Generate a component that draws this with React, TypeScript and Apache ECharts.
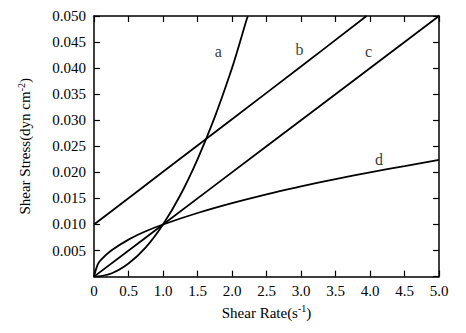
import React, { useEffect, useRef } from "react";
import * as echarts from "echarts";

const xTicks = [0, 0.5, 1.0, 1.5, 2.0, 2.5, 3.0, 3.5, 4.0, 4.5, 5.0];
const yTicks = [0, 0.005, 0.01, 0.015, 0.02, 0.025, 0.03, 0.035, 0.04, 0.045, 0.05];

const curveA: [number, number][] = [
  [0, 0], [0.25, 0.0006], [0.5, 0.0025], [0.75, 0.0056], [1.0, 0.01], [1.25, 0.0156],
  [1.5, 0.0225], [1.75, 0.0306], [2.0, 0.04], [2.1, 0.0443], [2.2, 0.0488], [2.23, 0.05],
];
const curveB: [number, number][] = [[0, 0.01], [1.0, 0.0201], [2.0, 0.0302], [3.0, 0.0403], [3.95, 0.05]];
const curveC: [number, number][] = [[0, 0], [1.0, 0.01], [2.5, 0.025], [5.0, 0.05]];
const curveD: [number, number][] = [
  [0, 0], [0.05, 0.0022], [0.1, 0.0032], [0.25, 0.005], [0.5, 0.0071], [0.75, 0.0087], [1.0, 0.01],
  [1.5, 0.0122], [2.0, 0.0141], [2.5, 0.0158], [3.0, 0.0173], [3.5, 0.0187], [4.0, 0.02],
  [4.5, 0.0212], [5.0, 0.0224],
];
const curveLabels: { name: string; value: [number, number] }[] = [
  { name: "a", value: [1.8, 0.0432] },
  { name: "b", value: [2.98, 0.0436] },
  { name: "c", value: [3.98, 0.0432] },
  { name: "d", value: [4.13, 0.0224] },
];

const FONT = "Liberation Serif";

export default function App() {
  const ref = useRef<HTMLDivElement>(null);
  useEffect(() => {
    if (!ref.current) return;
    const chart = echarts.init(ref.current, undefined, { renderer: "svg" });
    const line = (data: [number, number][]) => ({
      type: "line",
      data,
      smooth: 0.4,
      symbol: "none",
      lineStyle: { color: "#000", width: 1.8 },
      xAxisIndex: 0,
      yAxisIndex: 0,
      z: 3,
    });
    const axisLine = { show: true, onZero: false, lineStyle: { color: "#000", width: 1.5 } };
    const axisTick = { show: true, inside: true, length: 6, lineStyle: { color: "#000", width: 1.2 } };
    const subRich = {
      n: { fontFamily: FONT, fontSize: 15, color: "#000" },
      s: { fontFamily: FONT, fontSize: 10, color: "#000", verticalAlign: "top", padding: [0, 0, 8, 0] },
    };
    chart.setOption({
      animation: false,
      backgroundColor: "#fff",
      textStyle: { fontFamily: FONT },
      grid: { left: 82, right: 19, top: 8, bottom: 43 },
      xAxis: [
        {
          type: "value",
          min: 0,
          max: 5,
          interval: 0.5,
          position: "bottom",
          axisLine,
          axisTick,
          splitLine: { show: false },
          axisLabel: {
            color: "#000",
            fontFamily: FONT,
            fontSize: 15,
            margin: 7,
            formatter: (v: number) => (v === 0 ? "0" : v.toFixed(1)),
          },
          name: "{n|Shear Rate(s}{s|-1}{n|)}",
          nameLocation: "middle",
          nameGap: 21,
          nameTextStyle: { rich: subRich },
        },
        {
          type: "value",
          min: 0,
          max: 5,
          interval: 0.5,
          position: "top",
          axisLine,
          axisTick,
          splitLine: { show: false },
          axisLabel: { show: false },
        },
      ],
      yAxis: [
        {
          type: "value",
          min: 0,
          max: 0.05,
          interval: 0.005,
          position: "left",
          axisLine,
          axisTick,
          splitLine: { show: false },
          axisLabel: {
            color: "#000",
            fontFamily: FONT,
            fontSize: 15,
            margin: 8,
            formatter: (v: number) => (v === 0 ? "" : v.toFixed(3)),
          },
          name: "{n|Shear Stress(dyn cm}{s|-2}{n|)}",
          nameLocation: "middle",
          nameGap: 60,
          nameTextStyle: { rich: subRich },
        },
        {
          type: "value",
          min: 0,
          max: 0.05,
          interval: 0.005,
          position: "right",
          axisLine,
          axisTick,
          splitLine: { show: false },
          axisLabel: { show: false },
        },
      ],
      series: [
        line(curveA),
        line(curveB),
        line(curveC),
        line(curveD),
        {
          type: "scatter",
          data: curveLabels,
          symbolSize: 1,
          itemStyle: { color: "rgba(0,0,0,0)" },
          label: {
            show: true,
            position: "inside",
            formatter: (p: any) => p.name,
            fontFamily: FONT,
            fontSize: 16,
            color: "#000",
          },
          z: 4,
        },
      ],
    });
    return () => chart.dispose();
  }, []);
  return <div ref={ref} style={{ width: 450, height: 317 }} />;
}
